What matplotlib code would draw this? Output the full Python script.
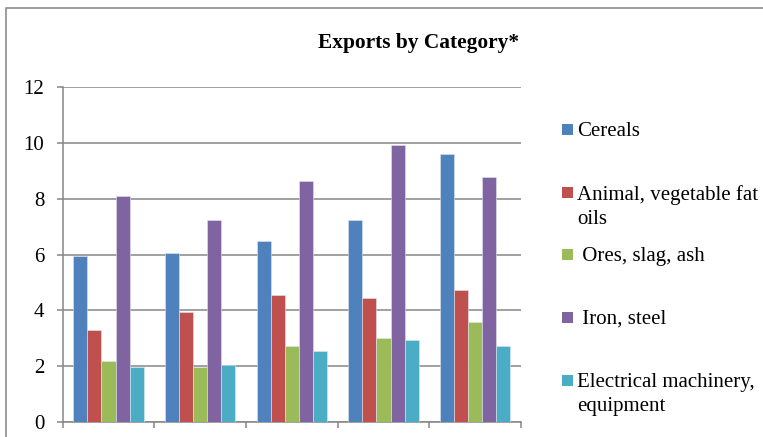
import matplotlib
matplotlib.use("Agg")
import matplotlib.pyplot as plt
from matplotlib.lines import Line2D
from matplotlib.patches import Rectangle
import numpy as np

# values (5 groups, no visible category labels)
groups = [0, 1, 2, 3, 4]
series_names = ["Cereals", "Animal, vegetable fat\noils", " Ores, slag, ash",
                " Iron, steel", "Electrical machinery,\nequipment"]
cereals = [5.95, 6.06, 6.48, 7.23, 9.59]
animal_oils = [3.30, 3.94, 4.56, 4.43, 4.74]
ores = [2.19, 1.97, 2.72, 3.01, 3.59]
iron_steel = [8.08, 7.23, 8.64, 9.93, 8.76]
electrical = [1.98, 2.06, 2.54, 2.93, 2.73]
series_values = [cereals, animal_oils, ores, iron_steel, electrical]
colors = ["#4F81BD", "#C0504D", "#9BBB59", "#8064A2", "#4BACC6"]

plt.rcParams['font.family'] = ['Liberation Serif', 'DejaVu Serif']

W, H = 763, 437
fig = plt.figure(figsize=(W / 100, H / 100), dpi=100)

def px(x, y):
    # pixel coords (from top-left) -> figure fraction
    return x / W, 1 - y / H

left, right, top, bottom = 62.7, 521.0, 86.7, 422.3
ax = fig.add_axes([left / W, 1 - bottom / H, (right - left) / W, (bottom - top) / H])

grid_c = "#868686"
bw = 1 / 6.5
x = np.array(groups, dtype=float)
for i, (vals, c) in enumerate(zip(series_values, colors)):
    ax.bar(x + (i - 2) * bw, vals, width=bw, color=c,
           edgecolor="#dde6f0", linewidth=0.4, zorder=3)

ax.set_xlim(-0.5, 4.5)
ax.set_ylim(0, 12)
ax.set_yticks(range(0, 13, 2))
ax.set_xticks(np.arange(-0.5, 4.6, 1.0))
ax.set_xticklabels([])
ax.grid(axis='y', color=grid_c, linewidth=1.1, zorder=0)
ax.set_axisbelow(True)

for s in ["top", "right"]:
    ax.spines[s].set_visible(False)
for s in ["left", "bottom"]:
    ax.spines[s].set_color(grid_c)
    ax.spines[s].set_linewidth(1.1)
ax.tick_params(axis='y', direction='out', length=4.3, width=1.1, color=grid_c,
               labelsize=15, pad=9)
ax.tick_params(axis='x', direction='out', length=4.5, width=1.1, color=grid_c)

# title
fig.text(*px(419, 43), "Exports by Category*", ha='center', va='center',
         fontsize=15.4, fontweight='bold')

# legend, drawn by hand to follow the original spacing
legend_y = [130, 193, 255, 318, 381]
for name, c, ly in zip(series_names, colors, legend_y):
    fx, fy = px(562, ly + 5)
    fig.add_artist(Rectangle((fx, fy), 11 / W, 11 / H, transform=fig.transFigure,
                             facecolor=c, edgecolor='none'))
    fig.text(*px(577, ly - 8), name, ha='left', va='top', fontsize=15,
             linespacing=1.38)

# outer chart border (only top and left sides fall inside the crop)
bx0, by0 = px(6, H)
bx1, by1 = px(6, 8)
fig.add_artist(Line2D([bx0, bx1, 1.0], [by0, by1, by1], transform=fig.transFigure,
                      color="#8c8c8c", linewidth=1.2))

fig.savefig("out.png", dpi=100)
